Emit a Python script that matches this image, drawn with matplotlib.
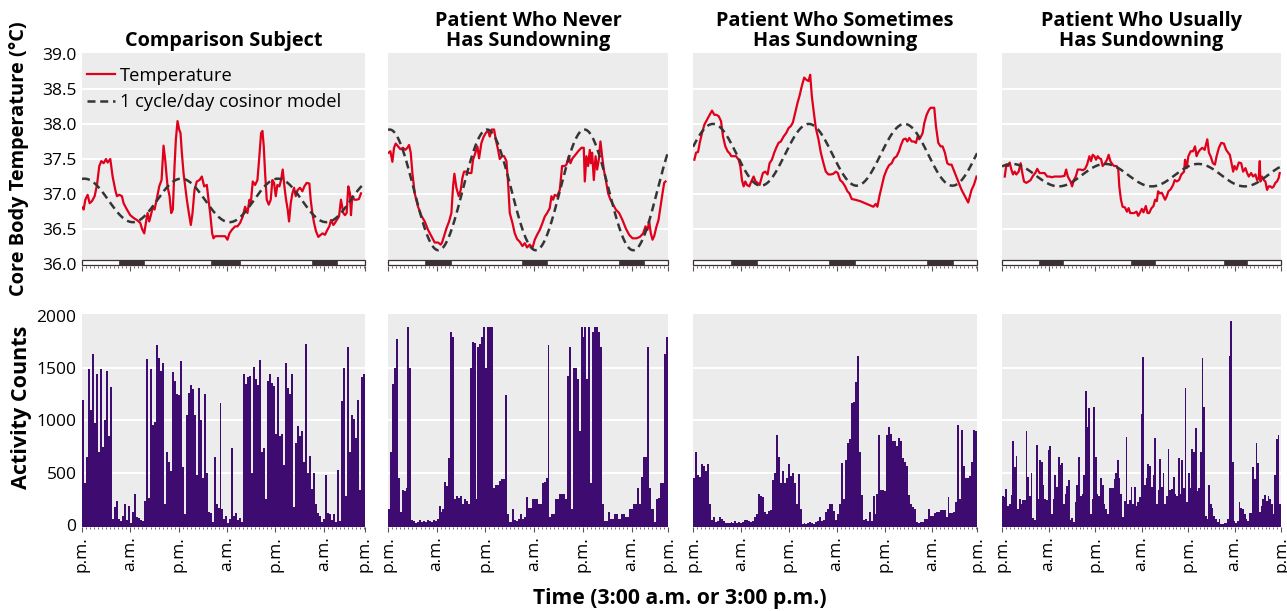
import numpy as np
import matplotlib
matplotlib.use("Agg")
import matplotlib.pyplot as plt
from matplotlib.patches import Rectangle
from matplotlib.lines import Line2D

plt.rcParams["font.family"] = ["Open Sans", "DejaVu Sans"]

# ---------------------------------------------------------------- data
titles = ["Comparison Subject",
          "Patient Who Never\nHas Sundowning",
          "Patient Who Sometimes\nHas Sundowning",
          "Patient Who Usually\nHas Sundowning"]

# recording length shown on each panel (hours from 3:00 p.m.)
spans = [70.2, 69.0, 71.2, 72.0]
tick_labels = ["p.m.", "a.m.", "p.m.", "a.m.", "p.m.", "a.m.", "p.m."]

# lights-off periods (hours from start)
night_1 = [(9.1, 15.3), (32.0, 39.2), (57.1, 63.3)]
night_2 = [(9.2, 15.4), (33.0, 39.2), (56.9, 63.1)]
night_3 = [(9.5, 16.0), (34.1, 40.6), (58.7, 65.2)]
night_4 = [(9.5, 15.7), (33.3, 39.5), (57.2, 63.3)]

# 1 cycle/day cosinor fits: mesor, amplitude, acrophase (h)
cos_mesor = [36.91, 37.06, 37.56, 37.27]
cos_amp = [0.31, 0.86, 0.44, 0.16]
cos_acro = [0.6, 0.4, 5.0, 2.6]

hours_1 = [0.17, 0.41, 0.83, 1.40, 1.90, 2.48, 3.14, 3.72, 4.29, 4.79,
           5.37, 5.95, 6.36, 7.02, 7.60, 8.26, 8.67, 9.25, 9.91, 10.32,
           11.15, 11.97, 12.80, 13.63, 14.45, 14.86, 15.44, 15.85, 16.27, 16.68,
           17.09, 17.59, 18.00, 18.58, 19.16, 19.74, 20.23, 20.64, 21.22, 21.72,
           22.13, 22.54, 22.96, 23.29, 23.70, 24.11, 24.44, 24.77, 25.19, 25.60,
           26.01, 26.51, 27.00, 27.42, 27.91, 28.49, 29.15, 29.73, 30.31, 30.97,
           31.38, 31.79, 32.29, 32.62, 33.03, 34.27, 35.51, 36.09, 36.58, 37.16,
           37.99, 38.56, 39.22, 39.88, 40.46, 41.04, 41.54, 41.87, 42.36, 42.94,
           43.52, 43.93, 44.43, 44.76, 45.09, 45.42, 45.83, 46.33, 46.82, 47.23,
           47.65, 48.06, 48.47, 48.97, 49.38, 49.79, 50.21, 50.62, 51.03, 51.36,
           51.78, 52.19, 52.60, 53.01, 53.51, 54.09, 54.67, 55.16, 55.74, 56.40,
           56.73, 57.14, 57.56, 58.05, 58.63, 59.21, 59.70, 60.28, 60.86, 61.35,
           61.77, 62.35, 62.76, 63.17, 63.75, 64.24, 64.82, 65.24, 65.65, 66.06,
           66.47, 66.72, 67.05, 67.55, 68.13, 68.70, 69.20]
temps_1 = [36.81, 36.78, 36.92, 36.99, 36.87, 36.90, 36.97, 37.13, 37.40, 37.47,
           37.44, 37.50, 37.45, 37.50, 37.25, 37.06, 36.97, 36.99, 36.97, 36.87,
           36.78, 36.70, 36.66, 36.63, 36.59, 36.51, 36.44, 36.59, 36.73, 36.61,
           36.70, 36.82, 36.78, 36.94, 37.11, 37.20, 37.69, 37.49, 37.11, 36.97,
           36.73, 36.78, 37.40, 37.78, 38.04, 37.92, 37.87, 37.59, 37.30, 37.11,
           36.92, 36.73, 36.56, 36.73, 37.06, 37.18, 37.20, 37.25, 37.11, 37.13,
           36.92, 36.73, 36.44, 36.37, 36.40, 36.40, 36.40, 36.35, 36.44, 36.49,
           36.54, 36.54, 36.59, 36.68, 36.82, 36.73, 36.92, 36.87, 37.18, 37.13,
           37.20, 37.49, 37.87, 37.90, 37.68, 37.30, 36.92, 36.85, 36.92, 37.20,
           37.16, 36.97, 37.13, 37.11, 37.20, 37.35, 37.11, 36.92, 36.78, 36.61,
           36.87, 37.01, 37.09, 36.97, 37.06, 37.09, 37.04, 37.11, 37.16, 37.15,
           36.92, 36.73, 36.59, 36.47, 36.39, 36.42, 36.44, 36.42, 36.49, 36.54,
           36.63, 36.56, 36.59, 36.63, 36.68, 36.92, 36.73, 36.70, 36.73, 37.11,
           37.01, 36.70, 36.97, 36.92, 36.92, 36.93, 37.01]

hours_2 = [0.16, 0.58, 1.07, 1.48, 1.89, 2.47, 3.04, 3.70, 4.27, 4.77,
           5.18, 5.59, 6.00, 6.57, 7.40, 8.22, 9.04, 9.86, 10.68, 11.50,
           12.33, 12.98, 13.31, 13.80, 14.38, 15.04, 15.61, 16.02, 16.35, 16.84,
           17.42, 17.91, 18.32, 18.73, 19.31, 19.97, 20.54, 20.95, 21.53, 22.02,
           22.43, 23.01, 23.58, 24.08, 24.65, 25.06, 25.55, 26.13, 26.54, 27.12,
           27.53, 28.10, 28.60, 29.17, 29.58, 29.99, 30.65, 31.22, 31.80, 32.46,
           33.11, 33.69, 34.26, 34.92, 35.58, 36.15, 36.73, 37.39, 38.06, 38.62,
           39.20, 39.85, 40.26, 40.67, 41.08, 41.66, 42.32, 42.89, 43.55, 43.96,
           44.53, 44.95, 45.44, 46.18, 46.84, 47.66, 48.23, 48.48, 48.89, 49.30,
           49.71, 49.96, 50.29, 50.70, 51.13, 51.52, 51.93, 52.34, 52.75, 53.16,
           53.66, 54.23, 54.81, 55.46, 56.12, 56.94, 57.76, 58.59, 59.41, 60.23,
           61.22, 62.04, 62.86, 63.43, 63.93, 64.34, 64.75, 65.16, 65.57, 66.15,
           66.64, 67.13, 67.62, 68.04, 68.37]
temps_2 = [37.59, 37.61, 37.46, 37.66, 37.72, 37.68, 37.64, 37.66, 37.63, 37.66,
           37.70, 37.59, 37.30, 37.01, 36.82, 36.69, 36.61, 36.49, 36.40, 36.31,
           36.31, 36.28, 36.31, 36.40, 36.51, 36.61, 36.73, 37.11, 37.29, 37.09,
           36.97, 37.06, 37.23, 37.32, 37.32, 37.30, 37.30, 37.49, 37.59, 37.68,
           37.51, 37.73, 37.82, 37.87, 37.91, 37.82, 37.92, 37.92, 37.78, 37.63,
           37.50, 37.54, 37.54, 37.47, 37.16, 36.73, 36.59, 36.44, 36.36, 36.32,
           36.26, 36.30, 36.24, 36.28, 36.23, 36.35, 36.42, 36.49, 36.59, 36.68,
           36.73, 36.80, 36.97, 36.92, 36.99, 36.97, 37.06, 37.40, 37.40, 37.42,
           37.54, 37.44, 37.51, 37.56, 37.61, 37.66, 37.66, 37.18, 37.54, 37.40,
           37.63, 37.44, 37.59, 37.20, 37.54, 37.35, 37.49, 37.75, 37.54, 37.35,
           37.20, 37.01, 36.92, 36.85, 36.78, 36.73, 36.63, 36.51, 36.42, 36.37,
           36.37, 36.39, 36.44, 36.54, 36.49, 36.61, 36.44, 36.35, 36.40, 36.54,
           36.63, 36.82, 37.01, 37.16, 37.18]

hours_3 = [0.33, 0.75, 1.25, 1.67, 2.25, 2.84, 3.50, 4.17, 4.75, 5.34,
           5.84, 6.42, 7.01, 7.51, 8.09, 8.67, 9.17, 9.59, 10.18, 10.76,
           11.43, 11.84, 12.26, 12.68, 13.09, 13.51, 14.10, 14.60, 15.18, 15.68,
           16.18, 16.68, 17.01, 17.51, 18.10, 18.68, 19.18, 19.77, 20.35, 20.85,
           21.43, 22.02, 22.69, 23.35, 23.94, 24.52, 25.02, 25.61, 26.19, 26.69,
           27.27, 27.86, 28.36, 28.94, 29.36, 29.77, 30.19, 30.78, 31.44, 32.03,
           32.69, 33.28, 33.94, 34.53, 35.19, 35.78, 36.28, 36.86, 37.45, 38.12,
           38.70, 39.20, 39.78, 40.62, 41.87, 43.12, 44.37, 45.20, 45.79, 46.21,
           46.71, 47.29, 47.87, 48.54, 49.12, 49.79, 50.38, 51.04, 51.63, 52.13,
           52.72, 53.30, 53.72, 54.21, 54.80, 55.38, 55.88, 56.30, 56.71, 57.13,
           57.55, 57.96, 58.55, 59.13, 59.55, 60.46, 60.88, 61.47, 62.05, 62.55,
           63.13, 63.72, 64.22, 64.80, 65.64, 66.47, 67.31, 68.14, 68.97, 69.39,
           69.81, 70.39, 71.06]
temps_3 = [37.49, 37.59, 37.60, 37.73, 37.87, 37.99, 38.06, 38.13, 38.19, 38.13,
           38.13, 38.11, 38.04, 37.82, 37.68, 37.61, 37.58, 37.54, 37.54, 37.54,
           37.49, 37.40, 37.20, 37.11, 37.18, 37.13, 37.11, 37.18, 37.25, 37.18,
           37.16, 37.13, 37.20, 37.30, 37.32, 37.28, 37.44, 37.49, 37.59, 37.66,
           37.73, 37.75, 37.82, 37.87, 37.94, 37.97, 38.02, 38.16, 38.30, 38.40,
           38.54, 38.66, 38.63, 38.61, 38.70, 38.40, 38.20, 37.94, 37.78, 37.59,
           37.44, 37.32, 37.28, 37.28, 37.29, 37.32, 37.30, 37.20, 37.17, 37.11,
           37.04, 37.01, 36.93, 36.92, 36.90, 36.87, 36.84, 36.82, 36.86, 36.82,
           36.97, 37.11, 37.25, 37.35, 37.41, 37.44, 37.51, 37.54, 37.61, 37.70,
           37.78, 37.79, 37.75, 37.80, 37.75, 37.75, 37.73, 37.82, 37.78, 37.82,
           37.87, 38.01, 38.13, 38.20, 38.23, 38.23, 37.97, 37.73, 37.68, 37.68,
           37.59, 37.44, 37.42, 37.42, 37.30, 37.18, 37.06, 36.97, 36.88, 36.97,
           37.06, 37.13, 37.25]

hours_4 = [0.69, 1.11, 1.54, 1.97, 2.40, 2.83, 3.26, 3.68, 4.28, 4.80,
           5.23, 5.66, 6.26, 6.86, 7.37, 7.97, 8.57, 9.08, 9.68, 10.28,
           10.97, 11.65, 12.25, 12.85, 13.54, 14.40, 15.25, 16.11, 16.54, 16.97,
           17.65, 18.08, 18.51, 19.02, 19.54, 20.22, 20.82, 21.42, 21.94, 22.54,
           22.96, 23.39, 23.82, 24.25, 24.68, 25.11, 25.54, 25.96, 26.56, 27.08,
           27.51, 27.94, 28.53, 28.96, 29.56, 29.99, 30.25, 30.68, 31.11, 31.71,
           32.22, 32.65, 33.08, 33.68, 34.10, 34.70, 35.13, 35.56, 36.08, 36.50,
           37.10, 37.53, 37.96, 38.56, 39.07, 39.50, 39.93, 40.27, 40.70, 41.22,
           41.65, 42.07, 42.50, 42.93, 43.53, 44.13, 44.56, 45.07, 45.67, 46.27,
           46.96, 47.22, 47.64, 48.07, 48.67, 49.27, 49.79, 50.21, 50.56, 51.07,
           51.67, 52.27, 52.96, 53.38, 53.81, 54.41, 54.93, 55.36, 55.96, 56.56,
           57.24, 57.84, 58.35, 58.78, 59.21, 59.64, 59.98, 60.50, 61.10, 61.70,
           62.21, 62.81, 63.24, 63.67, 64.27, 64.78, 65.38, 65.81, 66.24, 66.50,
           66.67, 67.10, 67.52, 67.95, 68.38, 68.81, 69.24, 69.67, 70.10, 70.52,
           70.95, 71.38, 71.64]
temps_4 = [37.25, 37.42, 37.40, 37.45, 37.35, 37.28, 37.32, 37.28, 37.32, 37.44,
           37.30, 37.18, 37.16, 37.18, 37.20, 37.26, 37.30, 37.36, 37.30, 37.30,
           37.30, 37.25, 37.25, 37.24, 37.25, 37.25, 37.25, 37.26, 37.35, 37.25,
           37.18, 37.11, 37.20, 37.25, 37.35, 37.35, 37.34, 37.36, 37.42, 37.54,
           37.47, 37.56, 37.54, 37.49, 37.54, 37.51, 37.50, 37.40, 37.44, 37.49,
           37.56, 37.47, 37.42, 37.40, 37.40, 37.35, 37.11, 36.92, 36.82, 36.81,
           36.75, 36.80, 36.73, 36.73, 36.73, 36.75, 36.69, 36.73, 36.79, 36.74,
           36.83, 36.73, 36.73, 36.80, 36.83, 36.92, 36.90, 37.04, 37.01, 37.02,
           36.97, 36.92, 36.97, 37.04, 37.07, 37.13, 37.20, 37.18, 37.20, 37.28,
           37.32, 37.49, 37.37, 37.54, 37.61, 37.61, 37.68, 37.54, 37.59, 37.63,
           37.66, 37.63, 37.78, 37.59, 37.54, 37.44, 37.42, 37.54, 37.66, 37.73,
           37.72, 37.63, 37.59, 37.56, 37.44, 37.32, 37.40, 37.35, 37.45, 37.44,
           37.32, 37.37, 37.30, 37.25, 37.30, 37.25, 37.28, 37.20, 37.23, 37.47,
           37.18, 37.25, 37.20, 37.18, 37.06, 37.11, 37.11, 37.09, 37.11, 37.16,
           37.18, 37.23, 37.30]

# activity counts, consecutive equal-length epochs covering each panel
activity_1 = [1200, 400, 650, 1490, 1100, 1640, 980, 1450, 700, 1490,
              750, 1000, 1470, 850, 1320, 60, 170, 230, 60, 40,
              90, 200, 50, 180, 20, 120, 300, 80, 70, 50,
              40, 230, 1590, 260, 1490, 960, 990, 1720, 1600, 1470,
              1550, 200, 700, 600, 520, 1460, 1380, 1250, 1240, 1570,
              550, 100, 1050, 1260, 1340, 1300, 1050, 480, 1310, 1000,
              450, 1250, 500, 120, 110, 30, 650, 200, 160, 1170,
              150, 60, 90, 20, 60, 740, 90, 110, 50, 70,
              30, 1450, 1350, 1420, 1430, 500, 1510, 1400, 1340, 1580,
              700, 740, 250, 1380, 1450, 1360, 1330, 870, 1420, 850,
              870, 570, 1550, 1310, 1250, 1450, 170, 780, 950, 850,
              900, 600, 1730, 500, 660, 340, 500, 200, 110, 90,
              30, 60, 480, 110, 100, 50, 100, 30, 530, 40,
              1190, 1500, 280, 1700, 700, 1050, 1010, 830, 1200, 330,
              1420, 1450]
activity_2 = [150, 700, 1350, 1500, 1780, 450, 120, 330, 320, 350,
              1900, 1500, 50, 40, 20, 30, 50, 30, 40, 30,
              50, 40, 30, 50, 40, 60, 180, 120, 150, 410,
              370, 640, 1850, 1800, 250, 280, 260, 280, 200, 250,
              230, 200, 1500, 1750, 1740, 250, 1700, 1730, 1800, 1900,
              1500, 1900, 1900, 1900, 350, 380, 380, 425, 440, 440,
              1240, 100, 30, 30, 150, 50, 40, 60, 100, 60,
              80, 270, 160, 160, 250, 250, 250, 200, 200, 400,
              415, 450, 1720, 80, 100, 100, 250, 250, 300, 300,
              300, 250, 1430, 1700, 150, 1500, 1500, 1400, 900, 1900,
              1800, 1900, 1400, 1900, 400, 1850, 1900, 1900, 1850, 1700,
              200, 40, 40, 120, 60, 60, 100, 100, 60, 60,
              100, 100, 80, 80, 150, 150, 200, 200, 350, 200,
              460, 650, 650, 1700, 350, 150, 150, 30, 250, 260,
              400, 400, 1640, 1800]
activity_3 = [450, 700, 480, 460, 580, 560, 520, 580, 200, 50,
              80, 30, 40, 80, 60, 40, 20, 20, 20, 30,
              20, 40, 20, 30, 20, 30, 50, 50, 40, 30,
              40, 80, 100, 300, 280, 270, 120, 100, 130, 140,
              430, 500, 860, 650, 400, 520, 400, 450, 580, 470,
              500, 400, 200, 490, 150, 10, 20, 10, 20, 30,
              20, 10, 30, 40, 80, 40, 50, 120, 150, 200,
              200, 130, 50, 100, 200, 590, 250, 620, 780, 820,
              1170, 1180, 1370, 1620, 700, 290, 50, 60, 40, 120,
              40, 280, 100, 300, 860, 330, 330, 320, 860, 940,
              870, 800, 800, 760, 830, 800, 640, 600, 560, 290,
              200, 170, 150, 30, 20, 30, 30, 60, 60, 150,
              90, 90, 110, 120, 120, 140, 140, 140, 80, 270,
              110, 110, 120, 220, 960, 250, 910, 560, 450, 450,
              470, 600, 910, 900]
activity_4 = [280, 270, 340, 180, 200, 290, 800, 550, 660, 150,
              250, 200, 240, 240, 900, 460, 280, 500, 70, 50,
              770, 250, 620, 600, 380, 250, 240, 720, 760, 100,
              250, 480, 360, 650, 570, 590, 200, 300, 370, 430,
              50, 70, 30, 220, 380, 650, 280, 300, 480, 1280,
              940, 1120, 100, 250, 1130, 650, 300, 280, 450, 380,
              200, 150, 100, 350, 350, 350, 440, 500, 620, 450,
              300, 80, 230, 840, 200, 240, 360, 200, 360, 180,
              220, 270, 1060, 1610, 380, 450, 580, 560, 360, 480,
              830, 200, 330, 630, 360, 500, 200, 280, 730, 330,
              340, 460, 300, 280, 640, 300, 620, 350, 1310, 220,
              500, 350, 730, 700, 930, 320, 350, 700, 1600, 1130,
              90, 60, 380, 200, 160, 90, 60, 30, 60, 10,
              10, 20, 20, 60, 1620, 1950, 600, 40, 20, 40,
              220, 160, 150, 100, 60, 40, 110, 110, 550, 440,
              780, 590, 120, 180, 250, 290, 230, 280, 250, 200,
              100, 480, 820, 860, 200]

temp_hours = [hours_1, hours_2, hours_3, hours_4]
temp_values = [temps_1, temps_2, temps_3, temps_4]
nights = [night_1, night_2, night_3, night_4]
activity = [activity_1, activity_2, activity_3, activity_4]

# ---------------------------------------------------------------- style
BG = "#ececec"
RED = "#e0001b"
DASH = "#353535"
PURPLE = "#3e0c70"
NIGHT = "#3a3035"
TICK = "#555555"
DASHES = (3.2, 1.9)

lefts = [0.0637, 0.3015, 0.5385, 0.7786]
widths = [0.2199, 0.2176, 0.2207, 0.2168]

fig = plt.figure(figsize=(12.87, 6.11), dpi=100)


def style_axis(ax, span, show_xlabels):
    ax.set_facecolor(BG)
    for s in ax.spines.values():
        s.set_visible(False)
    ax.set_xlim(0, span)
    ax.set_xticks(list(range(0, 61, 12)) + [span])
    ax.set_xticks(np.arange(0, span, 1.0), minor=True)
    ax.tick_params(axis="x", which="major", length=3.5, width=0.8, color=TICK)
    ax.tick_params(axis="x", which="minor", length=1.6, width=0.6, color=TICK)
    ax.tick_params(axis="y", length=0, labelsize=12.5, pad=4)
    if show_xlabels:
        ax.set_xticklabels(tick_labels, rotation=90, fontsize=12.5)
    else:
        ax.set_xticklabels([])


for i in range(4):
    span = spans[i]

    # ---- temperature row
    ax = fig.add_axes([lefts[i], 0.5646, widths[i], 0.3486])
    style_axis(ax, span, False)
    ax.set_ylim(35.975, 39.01)
    ax.set_yticks(np.arange(36.0, 39.01, 0.5))
    for g in [36.5, 37.0, 37.5, 38.0, 38.5]:
        ax.axhline(g, color="white", lw=1.4, zorder=0.5)

    t_model = np.linspace(0, span, 500)
    model = cos_mesor[i] + cos_amp[i] * np.cos(2 * np.pi * (t_model - cos_acro[i]) / 24.0)
    ax.plot(temp_hours[i], temp_values[i], color=RED, lw=1.6, zorder=2)
    ax.plot(t_model, model, color=DASH, lw=1.8, dashes=DASHES, zorder=3)

    ax.add_patch(Rectangle((0, 35.988), span, 0.075, facecolor="white",
                           edgecolor=NIGHT, lw=0.9, zorder=4, clip_on=False))
    for a, b in nights[i]:
        ax.add_patch(Rectangle((a, 35.988), b - a, 0.075, facecolor=NIGHT,
                               edgecolor=NIGHT, lw=0.5, zorder=5, clip_on=False))

    ax.set_title(titles[i], fontsize=14.3, fontweight="bold", pad=5,
                 linespacing=1.0)
    if i == 0:
        ax.set_yticklabels([f"{v:.1f}" for v in np.arange(36.0, 39.01, 0.5)])
        handles = [Line2D([], [], color=RED, lw=1.6),
                   Line2D([], [], color=DASH, lw=1.8, dashes=DASHES)]
        ax.legend(handles, ["Temperature", "1 cycle/day cosinor model"],
                  loc="upper left", bbox_to_anchor=(-0.03, 1.0),
                  frameon=False, fontsize=13.2,
                  handlelength=1.5, handletextpad=0.3, labelspacing=0.45,
                  borderaxespad=0.55, borderpad=0.2)
    else:
        ax.tick_params(axis="y", labelleft=False)

    # ---- activity row
    ax2 = fig.add_axes([lefts[i], 0.1375, widths[i], 0.3486])
    style_axis(ax2, span, True)
    ax2.set_ylim(-20, 2020)
    ax2.set_yticks([0, 500, 1000, 1500, 2000])
    for g in [500, 1000, 1500]:
        ax2.axhline(g, color="white", lw=1.4, zorder=0.5)
    counts = np.array(activity[i], dtype=float)
    n = len(counts)
    step = span / n
    ax2.bar(np.arange(n) * step, counts + 20, width=step, bottom=-20,
            align="edge", color=PURPLE, linewidth=0, zorder=2)
    if i != 0:
        ax2.tick_params(axis="y", labelleft=False)

fig.text(0.015, 0.741, "Core Body Temperature (°C)", rotation=90,
         ha="center", va="center", fontsize=14.4, fontweight="bold")
fig.text(0.017, 0.333, "Activity Counts", rotation=90,
         ha="center", va="center", fontsize=15.5, fontweight="bold")
fig.text(0.528, 0.021, "Time (3:00 a.m. or 3:00 p.m.)", ha="center",
         va="center", fontsize=15.2, fontweight="bold")

fig.savefig("out.png", dpi=100)
